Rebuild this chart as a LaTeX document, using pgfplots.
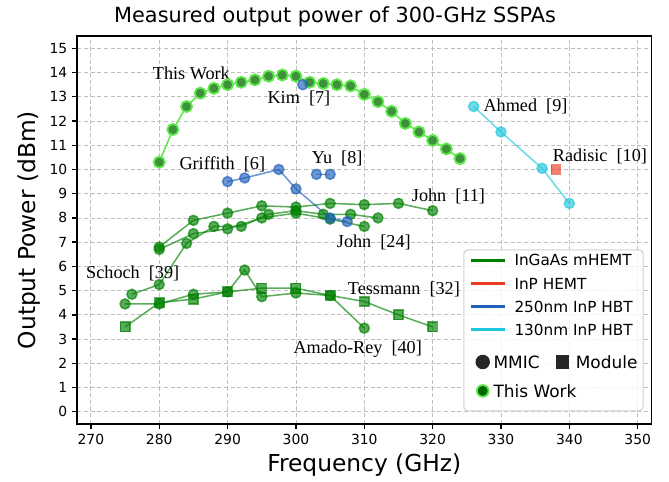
\documentclass[border=0pt]{standalone}
\usepackage{fontspec}
\setmainfont{DejaVu Sans}
\newfontfamily\serif{Liberation Serif}
\usepackage{pgfplots}
\pgfplotsset{compat=1.18}
\definecolor{cG}{RGB}{0,128,0}
\definecolor{cR}{RGB}{232,60,35}
\definecolor{cB}{RGB}{30,95,185}
\definecolor{cC}{RGB}{30,200,220}
\definecolor{twLine}{RGB}{95,232,75}
\definecolor{twFill}{RGB}{62,145,58}
\begin{document}
\begin{tikzpicture}
\begin{axis}[
  scale only axis, width=413.4pt, height=279.1pt,
  xmin=268, xmax=352, ymin=-0.5, ymax=15.5,
  xtick={270,280,...,350}, ytick={0,1,...,15},
  grid=major,
  major grid style={black!25, line width=0.6pt, dash pattern=on 3pt off 1.8pt},
  axis line style={line width=1.2pt},
  tick align=outside, tick pos=left, major tick length=3.6pt,
  every tick/.style={black, line width=1pt},
  ticklabel style={font=\fontsize{10}{12}\selectfont},
  /pgf/number format/assume math mode=true,
  xlabel={Frequency (GHz)}, ylabel={Output Power (dBm)},
  label style={font=\fontsize{16.8}{20}\selectfont},
  xlabel style={at={(axis description cs:0.5,-0.1218)}, anchor=base},
  ylabel style={at={(axis description cs:-0.0718,0.5)}, anchor=base},
  title={Measured output power of 300-GHz SSPAs},
  title style={at={(axis description cs:0.449,1.0147)}, anchor=base, font=\fontsize{15}{18}\selectfont},
  legend style={at={(axis description cs:0.6724,0.4504)}, anchor=north west,
    draw=black!18, line width=0.8pt, rounded corners=3pt, fill=white, fill opacity=0.8,
    text opacity=1, draw opacity=1, inner xsep=4.1pt, inner ysep=2pt,
    column sep=5.7pt, row sep=0pt, font=\fontsize{11}{13}\selectfont,
    nodes={inner sep=0pt, text height=7pt, text depth=1pt}},
  legend cell align=left,
]
% legend
\addlegendimage{legend image code/.code={\path[draw=none,fill=none] (0pt,-8.3pt) -- (0pt,6.6pt); \draw[cG, line width=2.2pt, sharp corners] (0pt,1pt) -- (24.5pt,1pt);}}
\addlegendentry{InGaAs mHEMT}
\addlegendimage{legend image code/.code={\path[draw=none,fill=none] (0pt,-8.3pt) -- (0pt,8.3pt); \draw[cR, line width=2.2pt, sharp corners] (0pt,1pt) -- (24.5pt,1pt);}}
\addlegendentry{InP HEMT}
\addlegendimage{legend image code/.code={\path[draw=none,fill=none] (0pt,-8.3pt) -- (0pt,8.3pt); \draw[cB, line width=2.2pt, sharp corners] (0pt,1pt) -- (24.5pt,1pt);}}
\addlegendentry{250nm InP HBT}
\addlegendimage{legend image code/.code={\path[draw=none,fill=none] (0pt,-8.3pt) -- (0pt,8.3pt); \draw[cC, line width=2.2pt, sharp corners] (0pt,1pt) -- (24.5pt,1pt);}}
\addlegendentry{130nm InP HBT}
\addlegendimage{legend image code/.code={\path[draw=none,fill=none] (0pt,-8.3pt) -- (0pt,15.5pt); \fill[black!85, fill opacity=1] (8.4pt,1.45pt) circle (4.8pt);}}
\addlegendentry{\fontsize{12.2}{14}\selectfont\hspace*{-15.1pt}MMIC\hspace{11.7pt}\textcolor{black!85}{\rule[-0.35pt]{9.6pt}{9.6pt}}\hspace{4.8pt}Module}
\addlegendimage{legend image code/.code={\path[draw=none,fill=none] (0pt,-11pt) -- (0pt,12.5pt); \draw[twLine, fill=green!40!black, fill opacity=1, line width=1.3pt] (8.4pt,1.45pt) circle (4.2pt);}}
\addlegendentry{\fontsize{12.2}{14}\selectfont\hspace*{-15.1pt}This Work}

% This Work
\addplot[forget plot, twLine, line width=1.1pt, mark=*, mark size=4pt,
  mark options={fill=twFill, draw=twLine, line width=1.3pt}]
  coordinates {(280,10.3)(282,11.65)(284,12.6)(286,13.15)(288,13.35)(290,13.5)(292,13.6)(294,13.7)(296,13.85)(298,13.9)(300,13.85)(302,13.6)(304,13.55)(306,13.5)(308,13.45)(310,13.1)(312,12.8)(314,12.4)(316,11.9)(318,11.55)(320,11.2)(322,10.85)(324,10.45)};

% InGaAs mHEMT
\pgfplotsset{gstyle/.style={forget plot, cG, opacity=0.65, line width=1.1pt, mark size=3.6pt}}
% John [11]
\addplot[gstyle, mark=*] coordinates {(280,6.8)(285,7.9)(290,8.2)(295,8.5)(300,8.45)(305,8.6)(310,8.55)(315,8.6)(320,8.3)};
% John [24]
\addplot[gstyle, mark=*] coordinates {(280,6.7)(285,7.35)(290,7.55)(295,8.0)(300,8.2)(305,7.95)(310,7.65)};
% Schoch [39]
\addplot[gstyle, mark=*] coordinates {(276,4.85)(280,5.25)(284,6.95)(288,7.65)(292,7.65)(296,8.15)(300,8.3)(304,8.15)(308,8.15)(312,8.0)};
% Amado-Rey [40]
\addplot[gstyle, mark=*] coordinates {(275,4.45)(280,4.45)(285,4.85)(290,4.95)(292.5,5.85)(295,4.75)(300,4.9)(305,4.8)(310,3.45)};
% Tessmann [32]
\addplot[gstyle, mark=square*, mark size=3.4pt] coordinates {(275,3.5)(280,4.5)(285,4.65)(290,4.95)(295,5.1)(300,5.1)(305,4.8)(310,4.55)(315,4.0)(320,3.5)};

% InP HEMT: Radisic [10]
\addplot[forget plot, cR, opacity=0.65, only marks, mark=square*, mark size=3.4pt] coordinates {(338,10.0)};

% 250nm InP HBT
\pgfplotsset{bstyle/.style={forget plot, cB, opacity=0.65, line width=1.1pt, mark=*, mark size=3.6pt}}
\addplot[bstyle] coordinates {(290,9.5)(292.5,9.65)(297.5,10.0)(300,9.2)(305,8.0)(307.5,7.85)};
\addplot[bstyle] coordinates {(301,13.5)};
\addplot[bstyle] coordinates {(303,9.8)(305,9.8)};

% 130nm InP HBT: Ahmed [9]
\addplot[forget plot, cC, opacity=0.65, line width=1.1pt, mark=*, mark size=3.6pt] coordinates {(326,12.6)(330,11.55)(336,10.05)(340,8.6)};

% annotations
\tikzset{ann/.style={anchor=base west, inner sep=0pt, font=\serif\fontsize{13.1}{15}\selectfont}}
\node[ann] at (axis cs:279.04,13.72) {This Work};
\node[ann] at (axis cs:295.81,12.73) {Kim\ \ [7]};
\node[ann] at (axis cs:282.93,10.02) {Griffith\ \ [6]};
\node[ann] at (axis cs:302.3,10.24) {Yu\ \ [8]};
\node[ann] at (axis cs:327.41,12.41) {Ahmed\ \ [9]};
\node[ann] at (axis cs:337.56,10.35) {Radisic\ \ [10]};
\node[ann] at (axis cs:316.93,8.68) {John\ \ [11]};
\node[ann] at (axis cs:305.96,6.78) {John\ \ [24]};
\node[ann] at (axis cs:269.28,5.5) {Schoch\ \ [39]};
\node[ann] at (axis cs:307.57,4.86) {Tessmann\ \ [32]};
\node[ann] at (axis cs:299.61,2.41) {Amado-Rey\ \ [40]};
\end{axis}
\pgfresetboundingbox
\path[use as bounding box] (current axis.south west) ++(-55.6pt,-41.2pt) rectangle ([shift={(12.7pt,26.1pt)}]current axis.north east);
\end{tikzpicture}
\end{document}
